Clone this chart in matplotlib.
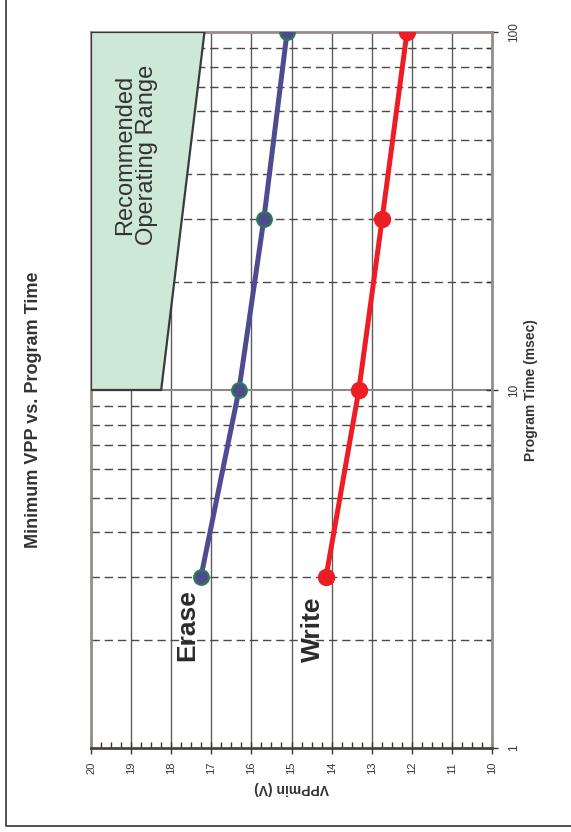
import numpy as np
import matplotlib.pyplot as plt
from matplotlib.ticker import MultipleLocator, LogLocator, FixedLocator, NullFormatter
from matplotlib.lines import Line2D

plt.rcParams['font.family'] = ['Liberation Sans', 'DejaVu Sans']

# Datos: tiempo de programación (ms) y VPP mínima (V)
program_time = [3, 10, 30, 100]
vpp_erase = [17.26, 16.31, 15.69, 15.11]
vpp_write = [14.14, 13.32, 12.74, 12.12]

# Zona recomendada (trapecio)
range_vpp = [20, 17.17, 18.25, 20]
range_time = [100, 100, 10, 10]

time_ticks = [1, 10, 100]
time_labels = ['1', '10', '100']
vpp_ticks = list(range(10, 21))

fig = plt.figure(figsize=(5.71, 8.32), dpi=100)
ax = fig.add_axes([91/571, 1 - 748/832, 401/571, 716/832])

ax.set_yscale('log')
ax.set_xlim(20, 10)
ax.set_ylim(1, 100)

# rejilla
for v in vpp_ticks:
    ax.axvline(v, color='#5c5c5c', lw=1.0, zorder=1)
minor_t = [m * d for d in (1, 10) for m in range(2, 10)]
for t in minor_t:
    ax.axhline(t, color='#4a4a4a', lw=1.0, ls=(0, (6, 3.5)), zorder=1)
ax.axhline(10, color='#8a8a8a', lw=1.5, zorder=1)

ax.fill(range_vpp, range_time, facecolor='#cde8d6', edgecolor='#3a3a3a',
        lw=1.6, zorder=3)
ax.text((136 - 91) / 401, (748 - 155) / 716, 'Recommended\nOperating Range',
        transform=ax.transAxes, rotation=90, ha='center', va='center',
        fontsize=17, color='#333333', linespacing=1.0, zorder=4)

ax.plot(vpp_erase, program_time, color='#4e4c90', lw=3.6, marker='o',
        ms=10.5, mfc='#4c4b8e', mec='#2f7a52', mew=1.6, zorder=5)
ax.plot(vpp_write, program_time, color='#ee1d23', lw=3.6, marker='o',
        ms=11.5, mfc='#ee1d23', mec='#ee1d23', zorder=5)

ax.text(17.6, 2.21, 'Erase', rotation=90, ha='center', va='center',
        fontsize=19, fontweight='bold', color='#2b2b2b', zorder=6)
ax.text(14.46, 2.14, 'Write', rotation=90, ha='center', va='center',
        fontsize=19, fontweight='bold', color='#2b2b2b', zorder=6)

# ejes
ax.xaxis.set_major_locator(FixedLocator(vpp_ticks))
ax.xaxis.set_minor_locator(MultipleLocator(0.25))
ax.set_xticklabels([str(v) for v in vpp_ticks], rotation=90, fontsize=8,
                   color='#333333')
ax.tick_params(axis='x', which='major', direction='inout', length=8,
               width=1.0, color='#333333', pad=6)
ax.tick_params(axis='x', which='minor', direction='in', length=4,
               width=1.0, color='#333333')

ax.yaxis.tick_right()
ax.yaxis.set_label_position('right')
ax.yaxis.set_major_locator(FixedLocator(time_ticks))
ax.yaxis.set_minor_locator(LogLocator(base=10, subs=np.arange(2, 10)))
ax.yaxis.set_minor_formatter(NullFormatter())
ax.set_yticklabels(time_labels, rotation=90, fontsize=8.5, color='#333333',
                   va='center')
ax.tick_params(axis='y', which='major', direction='inout', length=9,
               width=1.0, color='#333333', pad=7)
ax.tick_params(axis='y', which='minor', direction='in', length=4,
               width=1.0, color='#333333')

ax.set_xlabel('VPPmin (V)', rotation=180, fontsize=10, fontweight='bold',
              color='#333333', va='center', ha='center')
ax.xaxis.set_label_coords(0.5, -(788 - 748) / 716)
ax.set_ylabel('Program Time (msec)', rotation=90, fontsize=10,
              fontweight='bold', color='#333333', va='center', ha='center')
ax.yaxis.set_label_coords((531 - 91) / 401, 0.5)

for side in ('top', 'left', 'right'):
    ax.spines[side].set_color('#978c89')
    ax.spines[side].set_linewidth(2.0)
ax.spines['bottom'].set_color('#4d4340')
ax.spines['bottom'].set_linewidth(2.0)

fig.text(34 / 571, 1 - 410 / 832, 'Minimum VPP vs. Program Time', rotation=90,
         ha='center', va='center', fontsize=13, fontweight='bold',
         color='#333333')

# marco exterior (solo izquierda y abajo)
fig.add_artist(Line2D([5.5 / 571, 5.5 / 571, 1], [1, 1 - 826 / 832, 1 - 826 / 832],
                      transform=fig.transFigure, color='#333333', lw=1.2))

fig.savefig('out.png', dpi=100)
